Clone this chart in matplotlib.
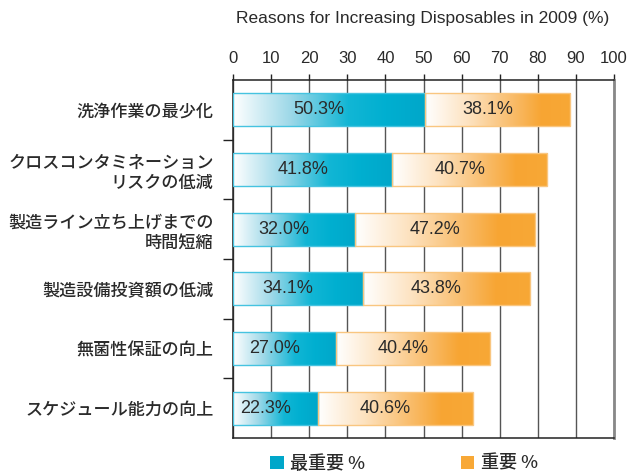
import numpy as np
import matplotlib
matplotlib.use("Agg")
import matplotlib.pyplot as plt
from matplotlib.colors import LinearSegmentedColormap
from matplotlib.patches import Patch

categories = ["洗浄作業の最少化",
              "クロスコンタミネーション\nリスクの低減",
              "製造ライン立ち上げまでの\n時間短縮",
              "製造設備投資額の低減",
              "無菌性保証の向上",
              "スケジュール能力の向上"]
most_important = [50.3, 41.8, 32.0, 34.1, 27.0, 22.3]
important = [38.1, 40.7, 47.2, 43.8, 40.4, 40.6]
series_names = ["最重要 %", "重要 %"]
title = "Reasons for Increasing Disposables in 2009 (%)"
xticks = list(range(0, 101, 10))

CJK = ["Noto Sans CJK JP", "DejaVu Sans"]
LAT = ["Liberation Sans", "DejaVu Sans"]
TXT = "#2a2a2a"

blue_cmap = LinearSegmentedColormap.from_list(
    "b", [(0, "#ffffff"), (0.3, "#9dd8e8"), (0.6, "#12b6d5"), (0.8, "#00afd0"), (1, "#00a7ca")])
orange_cmap = LinearSegmentedColormap.from_list(
    "o", [(0, "#ffffff"), (0.3, "#fde2bf"), (0.6, "#f9bc6a"), (0.8, "#f7a533"), (1, "#f8a836")])

fig = plt.figure(figsize=(6.3, 4.72), dpi=100)
ax = fig.add_axes([233/630, 1-438/472, (614-233)/630, (438-80)/472])

y = np.arange(len(categories))
h = 0.55
grad = np.linspace(0, 1, 256).reshape(1, -1)

def gradient_bars(bars, cmap, edge):
    for b in bars:
        x0, y0 = b.get_x(), b.get_y()
        w, hh = b.get_width(), b.get_height()
        im = ax.imshow(grad, cmap=cmap, extent=[x0, x0 + w, y0 + hh, y0],
                       aspect="auto", interpolation="bicubic", zorder=2)
        im.set_clip_path(b)
        b.set_edgecolor(edge)

b1 = ax.barh(y, most_important, height=h, facecolor="none", linewidth=1.0, zorder=3)
b2 = ax.barh(y, important, left=most_important, height=h, facecolor="none", linewidth=1.0, zorder=3)
gradient_bars(b1, blue_cmap, "#45c3e0")
gradient_bars(b2, orange_cmap, "#f9c680")

for i in range(len(categories)):
    ax.text(most_important[i] / 2 - 2.6, y[i], f"{most_important[i]:.1f}%",
            ha="center", va="center", fontsize=13, family=LAT, color=TXT, zorder=4)
    ax.text(most_important[i] + important[i] / 2 - 2.6, y[i], f"{important[i]:.1f}%",
            ha="center", va="center", fontsize=13, family=LAT, color=TXT, zorder=4)

ax.set_xlim(0, 100)
ax.set_ylim(len(categories) - 0.5, -0.5)
ax.set_xticks(xticks)
ax.xaxis.tick_top()
ax.tick_params(axis="x", which="major", direction="out", length=4, width=1,
               color="#222", pad=6, labelsize=12, labelcolor=TXT)
for lab in ax.get_xticklabels():
    lab.set_family(LAT)
ax.grid(axis="x", color="#555555", linewidth=1.0, zorder=0.5)
ax.set_axisbelow(True)

ax.set_yticks(y)
ax.set_yticklabels(categories, fontsize=12.3, color=TXT, linespacing=1.2)
for lab in ax.get_yticklabels():
    lab.set_family(CJK)
    lab.set_weight("medium")
ax.tick_params(axis="y", which="major", length=0, pad=14)
ax.set_yticks(np.arange(0.5, len(categories) - 0.5, 1), minor=True)
ax.tick_params(axis="y", which="minor", length=7, width=1, color="#222", direction="out")

for s in ["left", "top", "bottom"]:
    ax.spines[s].set_color("#222")
    ax.spines[s].set_linewidth(1.1)
ax.spines["right"].set_color("#888")
ax.spines["right"].set_linewidth(2)

fig.text(423/630, 1 - 18/472, title, ha="center", va="center", fontsize=12.5,
         family=LAT, color=TXT)

handles = [Patch(facecolor="#00a7ca", edgecolor="none"),
           Patch(facecolor="#f8a836", edgecolor="none")]
fig.legend(handles, series_names, loc="center", bbox_to_anchor=(404/630, 0.018),
           ncol=2, frameon=False, handlelength=0.75, handleheight=0.75,
           handletextpad=0.35, columnspacing=5.3,
           prop={"family": CJK, "size": 13, "weight": "medium"},
           labelcolor=TXT, borderaxespad=0)

fig.savefig("out.png", dpi=100)
